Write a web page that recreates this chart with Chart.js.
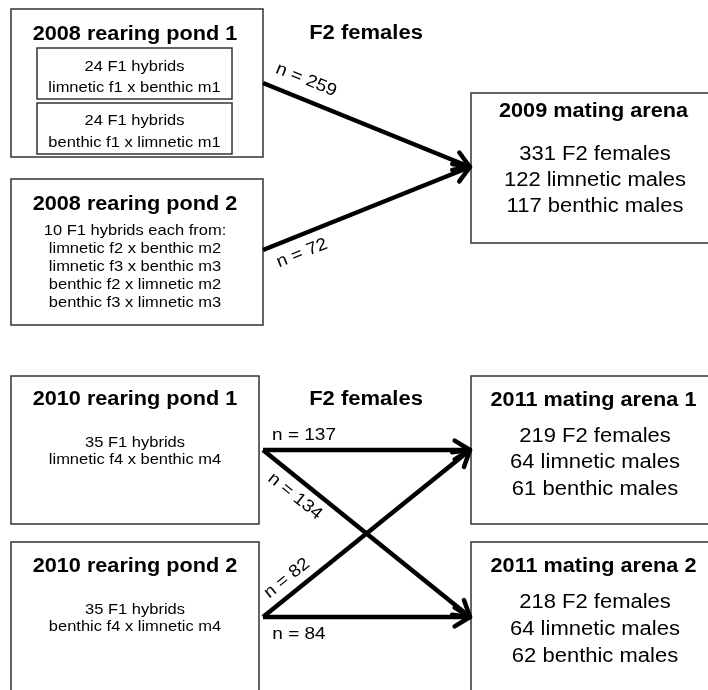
<!DOCTYPE html>
<html><head><meta charset="utf-8">
<script src="https://cdn.jsdelivr.net/npm/chart.js@4/dist/chart.umd.min.js"></script>
<style>html,body{margin:0;padding:0;background:#fff}#wrap{width:708px;height:690px;position:relative}</style>
</head><body><div id="wrap"><canvas id="c" width="708" height="690"></canvas></div>
<script>
// ---------------- data ----------------
const pondTitles = ["2008 rearing pond 1", "2008 rearing pond 2", "2010 rearing pond 1", "2010 rearing pond 2"];
const pond1Groups2008 = [["24 F1 hybrids", "limnetic f1 x benthic m1"], ["24 F1 hybrids", "benthic f1 x limnetic m1"]];
const pond2Lines2008 = ["10 F1 hybrids each from:", "limnetic f2 x benthic m2", "limnetic f3 x benthic m3", "benthic f2 x limnetic m2", "benthic f3 x limnetic m3"];
const pond1Lines2010 = ["35 F1 hybrids", "limnetic f4 x benthic m4"];
const pond2Lines2010 = ["35 F1 hybrids", "benthic f4 x limnetic m4"];
const arenaTitles = ["2009 mating arena", "2011 mating arena 1", "2011 mating arena 2"];
const arenaFemales = [331, 219, 218];
const arenaLimneticMales = [122, 64, 64];
const arenaBenthicMales = [117, 61, 62];
const flowLabel = "F2 females";
const flowFrom = [0, 1, 2, 2, 3, 3];
const flowTo = [0, 0, 1, 2, 1, 2];
const flowN = [259, 72, 137, 134, 82, 84];

// ---------------- layout (positions / styles) ----------------
const layout = {
  ponds: [
    {x0: 11, y0: 9, x1: 263, y1: 157, cx: 135, titleY: 39.5, anchorX: 263, anchorY: 83},
    {x0: 11, y0: 179, x1: 263, y1: 325, cx: 135, titleY: 209.5, anchorX: 263, anchorY: 250, linesY: [235, 253.3, 271, 289, 307]},
    {x0: 11, y0: 376, x1: 259, y1: 524, cx: 135, titleY: 405, anchorX: 263, anchorY: 450, linesY: [447.3, 464.3]},
    {x0: 11, y0: 542, x1: 259, y1: 720, cx: 135, titleY: 571.7, anchorX: 263, anchorY: 617, linesY: [614, 630.7]}
  ],
  innerBoxes: [
    {x0: 37, y0: 48, x1: 232, y1: 99, linesY: [71, 91.5]},
    {x0: 37, y0: 103, x1: 232, y1: 154, linesY: [125, 146.5]}
  ],
  arenas: [
    {x0: 471, y0: 93, x1: 730, y1: 243, cx: 595, titleY: 116.7, linesY: [160, 185.5, 211.5], anchorX: 470, anchorY: 167},
    {x0: 471, y0: 376, x1: 730, y1: 524, cx: 595, titleY: 405.7, linesY: [441.7, 468.3, 495], anchorX: 470, anchorY: 450},
    {x0: 471, y0: 542, x1: 730, y1: 720, cx: 595, titleY: 572.3, linesY: [608.3, 635, 661.7], anchorX: 470, anchorY: 617}
  ],
  flowLabelPos: [{x: 366, y: 38.5}, {x: 366, y: 405}],
  // label position along each arrow: distance along the shaft, signed perpendicular offset
  nLabel: [{along: 39, off: -19}, {along: 35, off: 17.5}, {along: 41, off: -15}, {along: 54, off: 16}, {along: 43, off: -15}, {along: 36, off: 17.5}],
  font: 'Arial, "Liberation Sans", Helvetica, sans-serif',
  sx: 1.1,
  boxColor: '#333',
  boxWidth: 1.5
};

// ---------------- chart ----------------
const datasets = flowN.map((n, i) => {
  const s = layout.ponds[flowFrom[i]], t = layout.arenas[flowTo[i]];
  return {
    label: 'n = ' + n,
    data: [{x: s.anchorX, y: s.anchorY}, {x: t.anchorX, y: t.anchorY}],
    showLine: true,
    borderColor: '#000',
    borderWidth: 4.5,
    pointRadius: 0,
    borderCapStyle: 'butt',
    clip: false
  };
});

function txt(ctx, str, x, y, size, bold, align) {
  ctx.save();
  ctx.translate(x, y);
  ctx.scale(layout.sx, 1);
  ctx.font = (bold ? 'bold ' : '') + size + 'px ' + layout.font;
  ctx.textAlign = align || 'center';
  ctx.textBaseline = 'alphabetic';
  ctx.fillStyle = '#000';
  ctx.fillText(str, 0, 0);
  ctx.restore();
}

const diagramPlugin = {
  id: 'diagram',
  beforeDatasetsDraw(chart) {
    const ctx = chart.ctx, xs = chart.scales.x, ys = chart.scales.y;
    const X = v => xs.getPixelForValue(v), Y = v => ys.getPixelForValue(v);
    ctx.save();
    ctx.strokeStyle = layout.boxColor;
    ctx.lineWidth = layout.boxWidth;
    const box = b => { ctx.strokeRect(X(b.x0), Y(b.y0), X(b.x1) - X(b.x0), Y(b.y1) - Y(b.y0)); };
    layout.ponds.forEach(box);
    layout.innerBoxes.forEach(box);
    layout.arenas.forEach(box);
    ctx.restore();

    layout.ponds.forEach((p, i) => txt(ctx, pondTitles[i], X(p.cx), Y(p.titleY), 19.7, true));
    pond1Groups2008.forEach((g, gi) => {
      const b = layout.innerBoxes[gi];
      g.forEach((line, li) => txt(ctx, line, X((b.x0 + b.x1) / 2), Y(b.linesY[li]), 15, false));
    });
    [null, pond2Lines2008, pond1Lines2010, pond2Lines2010].forEach((lines, i) => {
      if (!lines) return;
      const p = layout.ponds[i];
      lines.forEach((line, li) => txt(ctx, line, X(p.cx), Y(p.linesY[li]), 15, false));
    });
    layout.arenas.forEach((a, i) => {
      txt(ctx, arenaTitles[i], X(a.cx - 1.5), Y(a.titleY), 19.7, true);
      txt(ctx, arenaFemales[i] + ' F2 females', X(a.cx), Y(a.linesY[0]), 20, false);
      txt(ctx, arenaLimneticMales[i] + ' limnetic males', X(a.cx), Y(a.linesY[1]), 20, false);
      txt(ctx, arenaBenthicMales[i] + ' benthic males', X(a.cx), Y(a.linesY[2]), 20, false);
    });
    layout.flowLabelPos.forEach(p => txt(ctx, flowLabel, X(p.x), Y(p.y), 20, true));
  },
  afterDatasetsDraw(chart) {
    const ctx = chart.ctx;
    chart.data.datasets.forEach((ds, i) => {
      const meta = chart.getDatasetMeta(i);
      const a = meta.data[0], b = meta.data[1];
      const dx = b.x - a.x, dy = b.y - a.y, L = Math.hypot(dx, dy);
      const ux = dx / L, uy = dy / L;
      const ang = Math.atan2(dy, dx);
      ctx.save();
      ctx.strokeStyle = '#000';
      ctx.lineWidth = 4.5;
      ctx.lineCap = 'round';
      ctx.lineJoin = 'round';
      const len = 18, half = 0.55;
      ctx.beginPath();
      ctx.moveTo(b.x - len * Math.cos(ang - half), b.y - len * Math.sin(ang - half));
      ctx.lineTo(b.x, b.y);
      ctx.lineTo(b.x - len * Math.cos(ang + half), b.y - len * Math.sin(ang + half));
      ctx.stroke();
      ctx.restore();
      const lp = layout.nLabel[i];
      const nx = -uy, ny = ux;
      const cx = a.x + ux * lp.along + nx * lp.off;
      const cy = a.y + uy * lp.along + ny * lp.off;
      ctx.save();
      ctx.translate(cx, cy);
      ctx.rotate(ang);
      ctx.scale(layout.sx, 1);
      ctx.font = '17.3px ' + layout.font;
      ctx.textAlign = 'center';
      ctx.textBaseline = 'middle';
      ctx.fillStyle = '#000';
      ctx.fillText(ds.label, 0, 0);
      ctx.restore();
    });
  }
};

new Chart(document.getElementById('c'), {
  type: 'scatter',
  data: {datasets},
  options: {
    responsive: false,
    animation: false,
    events: [],
    layout: {padding: 0},
    plugins: {legend: {display: false}, tooltip: {enabled: false}, title: {display: false}},
    scales: {
      x: {type: 'linear', min: 0, max: 708, display: false},
      y: {type: 'linear', min: 0, max: 690, reverse: true, display: false}
    }
  },
  plugins: [diagramPlugin]
});
</script>
</body></html>
